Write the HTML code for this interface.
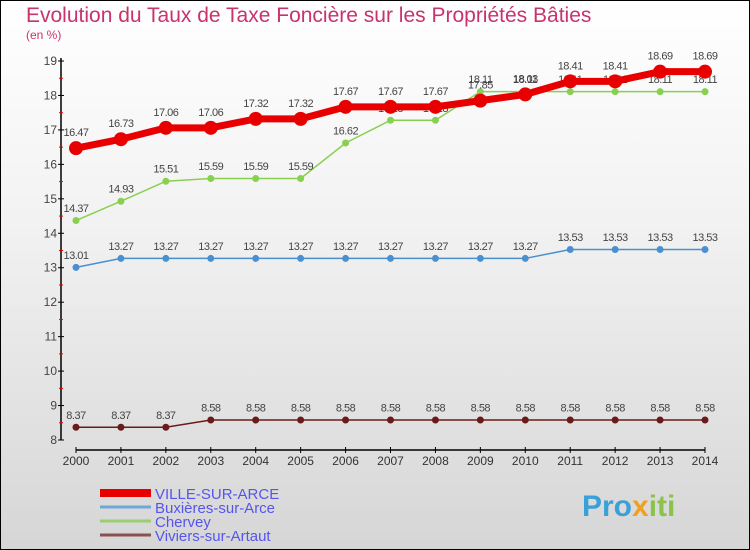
<!DOCTYPE html>
<html><head><meta charset="utf-8"><style>
body{margin:0;width:750px;height:550px;overflow:hidden;font-family:"Liberation Sans",sans-serif}
#wrap{position:absolute;left:0;top:0;width:748px;height:548px;border:1px solid #000;background:linear-gradient(#ffffff,#f2f2f2 40%,#d6d6d6)}
</style></head><body>
<div id="wrap"></div>
<svg id="chart" width="750" height="550" style="position:absolute;left:0;top:0">
<text x="26" y="22" font-size="21" fill="#c8336e">Evolution du Taux de Taxe Foncière sur les Propriétés Bâties</text>
<text x="26" y="39" font-size="12" fill="#c8336e">(en %)</text>
<g id="axes"></g><g id="series"></g><g id="legend"></g>
<text x="582" y="516" font-size="30" font-weight="bold" fill="#3aa0d8">Pro<tspan fill="#f0a020">x</tspan><tspan fill="#8bc34a">iti</tspan></text>
</svg>
<script>
const years=[2000,2001,2002,2003,2004,2005,2006,2007,2008,2009,2010,2011,2012,2013,2014];
const yTicks=[8,9,10,11,12,13,14,15,16,17,18,19];
const villeVals=[16.47,16.73,17.06,17.06,17.32,17.32,17.67,17.67,17.67,17.85,18.03,18.41,18.41,18.69,18.69];
const buxVals=[13.01,13.27,13.27,13.27,13.27,13.27,13.27,13.27,13.27,13.27,13.27,13.53,13.53,13.53,13.53];
const cherVals=[14.37,14.93,15.51,15.59,15.59,15.59,16.62,17.28,17.28,18.11,18.11,18.11,18.11,18.11,18.11];
const vivVals=[8.37,8.37,8.37,8.58,8.58,8.58,8.58,8.58,8.58,8.58,8.58,8.58,8.58,8.58,8.58];
const seriesNames=["VILLE-SUR-ARCE","Buxières-sur-Arce","Chervey","Viviers-sur-Artaut"];
const NS="http://www.w3.org/2000/svg";
const xS=i=>76+i*(705-76)/(years.length-1);
const yS=v=>440-(v-8)*(440-61)/11;
function mk(tag,attrs,parent){const e=document.createElementNS(NS,tag);for(const k in attrs)e.setAttribute(k,attrs[k]);parent.appendChild(e);return e;}
const ax=document.getElementById('axes');
let e=mk('line',{x1:61,y1:58,x2:61,y2:440,stroke:'#000','stroke-width':1.5},ax);


e=mk('line',{x1:76,y1:450,x2:705,y2:450,stroke:'#000','stroke-width':1.5},ax);


yTicks.forEach((t,i)=>{
  mk('line',{x1:58,x2:64,y1:yS(t),y2:yS(t),stroke:'#000'},ax);
  if(i<yTicks.length-1)mk('line',{x1:59,x2:63,y1:yS(t+0.5),y2:yS(t+0.5),stroke:'#e00'},ax);
  const tx=mk('text',{x:57,y:yS(t)+4,'font-size':12,'text-anchor':'end',fill:'#444'},ax);
  tx.textContent=t;
  
  
});
years.forEach((y,i)=>{
  mk('line',{x1:xS(i),x2:xS(i),y1:447,y2:453,stroke:'#000'},ax);
  const tx=mk('text',{x:xS(i),y:465,'font-size':12,'text-anchor':'middle',fill:'#333'},ax);
  tx.textContent=y;
  
  
});
const sg=document.getElementById('series');
function draw(vals,color,w,r,name){
  const g=mk('g',{},sg);
  
  
  mk('polyline',{points:vals.map((v,i)=>xS(i)+','+yS(v)).join(' '),fill:'none',stroke:color,'stroke-width':w},g);
  vals.forEach((v,i)=>{
    const c=mk('circle',{cx:xS(i),cy:yS(v),r:r,fill:color},g);
    
    
    const t=mk('text',{x:xS(i),y:yS(v)-(r+5),'font-size':11,'text-anchor':'middle',fill:'#444','letter-spacing':'-0.5'},g);
    t.textContent=v.toFixed(2).replace(/0$/,'').replace(/\.$/,'');
    t.textContent=String(v);
  });
}
draw(vivVals,'#6b1a1a',1.5,3.5,'viviers-series');
draw(buxVals,'#4a8fd0',1.5,3.5,'buxieres-series');
draw(cherVals,'#88d050',1.5,3.5,'chervey-series');
draw(villeVals,'#e80000',7,7,'ville-series');
const lg=document.getElementById('legend');
const lc=['#e80000','#6fa8d8','#98d070','#8b5050'];const lw=[8,3,3,3];
seriesNames.forEach((n,i)=>{
  const y=493+i*14;
  const g=mk('g',{},lg);
  
  
  mk('line',{x1:100,x2:151,y1:y,y2:y,stroke:lc[i],'stroke-width':lw[i]},g);
  const t=mk('text',{x:155,y:y+6,'font-size':15,fill:'#5555ee'},g);t.textContent=n;
});
</script>
</body></html>
